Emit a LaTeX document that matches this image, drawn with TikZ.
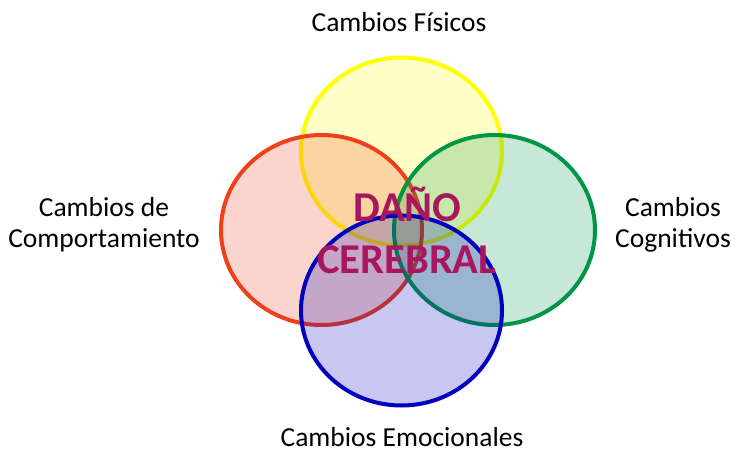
\documentclass[tikz,border=0pt]{standalone}
\usepackage{fontspec}
\setmainfont{Carlito}
\usetikzlibrary{shapes.geometric}
\definecolor{cyel}{RGB}{255,255,0}
\definecolor{cred}{RGB}{238,64,28}
\definecolor{cgrn}{RGB}{0,150,70}
\definecolor{cblu}{RGB}{0,0,190}
\definecolor{berry}{RGB}{168,22,94}
\tikzset{
  blob/.style={ellipse, draw=#1, fill=#1, fill opacity=0.22, draw opacity=1,
    line width=4pt, inner sep=0pt, minimum width=201pt, minimum height=190pt},
  lbl/.style={font=\fontsize{27.5}{31}\selectfont, align=center, inner sep=0pt, text=black},
  core/.style={font=\fontsize{42.5}{51}\selectfont\bfseries, align=center, inner sep=0pt, text=berry}
}
\begin{document}
\begin{tikzpicture}[x=1pt,y=-1pt]
\useasboundingbox (0,0) rectangle (736,454);
\node[blob=cyel, minimum height=188pt] (fis) at (401.5,151.5) {};
\node[blob=cred] (comp) at (321.5,230) {};
\node[blob=cgrn] (cog) at (494.5,230) {};
\node[blob=cblu] (emo) at (401.5,310.5) {};
\node[core, anchor=base] (dano) at (407.5,222) {DAÑO};
\node[core, anchor=base] (cere) at (407,273) {CEREBRAL};
\node[lbl, anchor=base] (tfis) at (399,32) {Cambios Físicos};
\node[lbl, anchor=base] (temo) at (402,446) {Cambios Emocionales};
\node[lbl] (tcomp) at (104,225) {Cambios de\\Comportamiento};
\node[lbl] (tcog) at (673,225) {Cambios\\Cognitivos};
\end{tikzpicture}
\end{document}
